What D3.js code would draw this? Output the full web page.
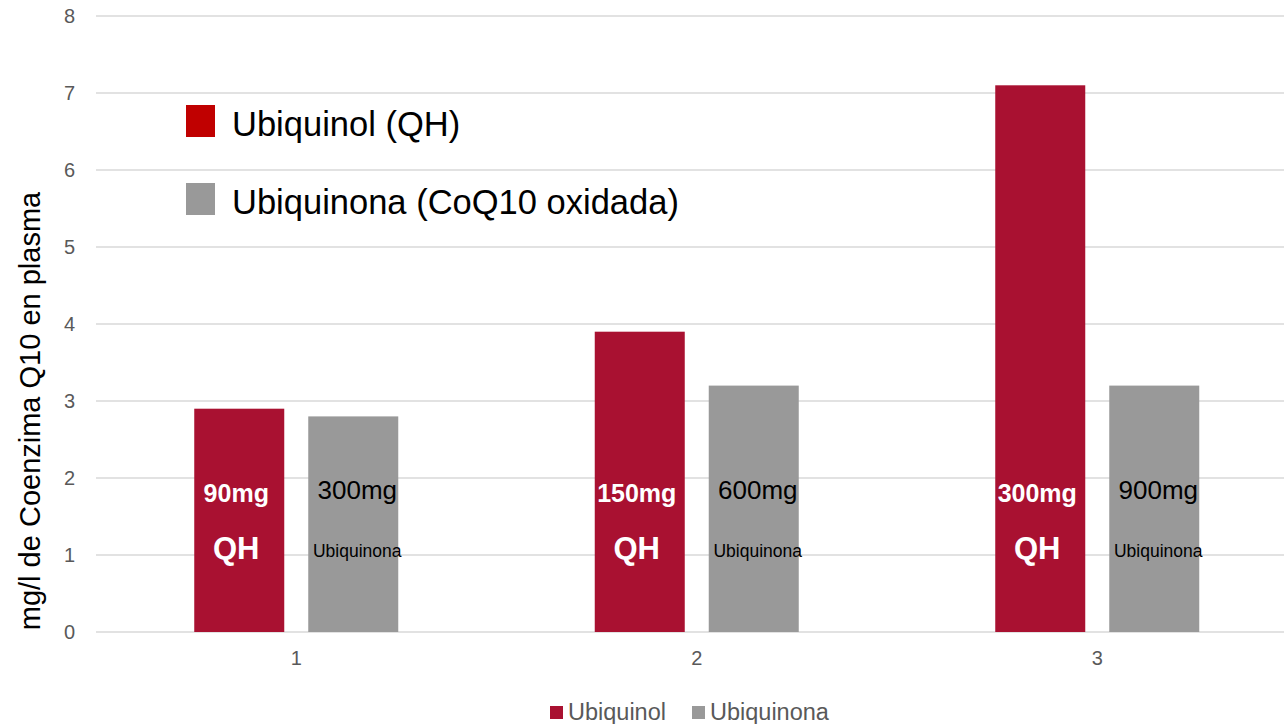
<!DOCTYPE html>
<html><head><meta charset="utf-8">
<script src="https://cdn.jsdelivr.net/npm/d3@7"></script>
<style>body{margin:0;background:#fff;font-family:Arial,"Liberation Sans",sans-serif;}</style>
</head><body>
<svg id="c" width="1284" height="724"></svg>
<script>
const categories = ["1","2","3"];
const seriesNames = ["Ubiquinol","Ubiquinona"];
const ubiquinol = [2.9, 3.9, 7.1];
const ubiquinona = [2.8, 3.2, 3.2];
const yTicks = [0,1,2,3,4,5,6,7,8];
const doseQH = ["90mg","150mg","300mg"];
const doseUbi = ["300mg","600mg","900mg"];
const insideLegend = ["Ubiquinol (QH)","Ubiquinona (CoQ10 oxidada)"];
const yTitle = "mg/l de Coenzima Q10 en plasma";

const colors = ["#A91131","#999999"];
const svg = d3.select("#c");
const font = "Arial, 'Liberation Sans', sans-serif";

const x0 = d3.scaleBand().domain(categories).range([96, 1297.5]).paddingInner(0).paddingOuter(0);
const y = d3.scaleLinear().domain([0,8]).range([632,16]);
const barW = 90, gap = 24;

// gridlines
const grid = svg.append("g");
grid.selectAll("line").data(yTicks).join("line")
  .attr("x1",96).attr("x2",1284)
  .attr("y1",d=>y(d)).attr("y2",d=>y(d))
  .attr("stroke","#d9d9d9").attr("stroke-width",1.5);

// y axis labels
const yAxis = d3.axisLeft(y).tickValues(yTicks).tickSize(0).tickPadding(0).tickFormat(d3.format("d"));
const ya = svg.append("g").attr("transform","translate(75,0)").call(yAxis);
ya.select(".domain").remove();
ya.selectAll("text").attr("font-family",font).attr("font-size",20).attr("fill","#595959");

// x axis labels
const xAxis = d3.axisBottom(x0).tickSize(0).tickPadding(0);
const xa = svg.append("g").attr("transform","translate(0,651)").call(xAxis);
xa.select(".domain").remove();
xa.selectAll("text").attr("font-family",font).attr("font-size",20).attr("fill","#595959");

// bars
const data = categories.map((c,i)=>({c, vals:[ubiquinol[i], ubiquinona[i]]}));
const cx = c => x0(c) + x0.bandwidth()/2;
const offs = [-(gap/2+barW), gap/2];
const groups = svg.append("g").selectAll("g").data(data).join("g");
groups.selectAll("rect").data(d=>d.vals.map((v,k)=>({c:d.c,v,k}))).join("rect")
  .attr("x",d=>cx(d.c)+offs[d.k]).attr("width",barW)
  .attr("y",d=>y(d.v)).attr("height",d=>y(0)-y(d.v))
  .attr("fill",d=>colors[d.k]);

// labels in bars
categories.forEach((c,i)=>{
  const qx = cx(c)+offs[0]+barW/2-3, ux = cx(c)+offs[1]+barW/2+4;
  svg.append("text").attr("x",qx).attr("y",502).attr("text-anchor","middle")
    .attr("font-family",font).attr("font-weight","bold").attr("font-size",25).attr("fill","#fff").text(doseQH[i]);
  svg.append("text").attr("x",qx).attr("y",559).attr("text-anchor","middle")
    .attr("font-family",font).attr("font-weight","bold").attr("font-size",31).attr("fill","#fff").text("QH");
  svg.append("text").attr("x",ux).attr("y",499).attr("text-anchor","middle")
    .attr("font-family",font).attr("font-size",26).attr("fill","#000").text(doseUbi[i]);
  svg.append("text").attr("x",ux).attr("y",557).attr("text-anchor","middle")
    .attr("font-family",font).attr("font-size",17.5).attr("fill","#000").text("Ubiquinona");
});

// inside legend
const legColors = ["#C00000","#999999"];
insideLegend.forEach((t,i)=>{
  const yy = 105 + i*78;
  svg.append("rect").attr("x",186).attr("y",yy).attr("width",29).attr("height",32).attr("fill",legColors[i]);
  svg.append("text").attr("x",232).attr("y",yy+31).attr("font-family",font).attr("font-size",34.5).attr("fill","#000").text(t);
});

// y title
svg.append("text").attr("transform","translate(40,411) rotate(-90)").attr("text-anchor","middle")
  .attr("font-family",font).attr("font-size",29).attr("fill","#000").text(yTitle);

// bottom legend
const bl = svg.append("g");
const blX = [550, 692];
seriesNames.forEach((s,i)=>{
  bl.append("rect").attr("x",blX[i]).attr("y",706).attr("width",13).attr("height",13).attr("fill",colors[i]);
  bl.append("text").attr("x",blX[i]+18).attr("y",720).attr("font-family",font).attr("font-size",23.5).attr("fill","#595959").text(s);
});
</script>
</body></html>
